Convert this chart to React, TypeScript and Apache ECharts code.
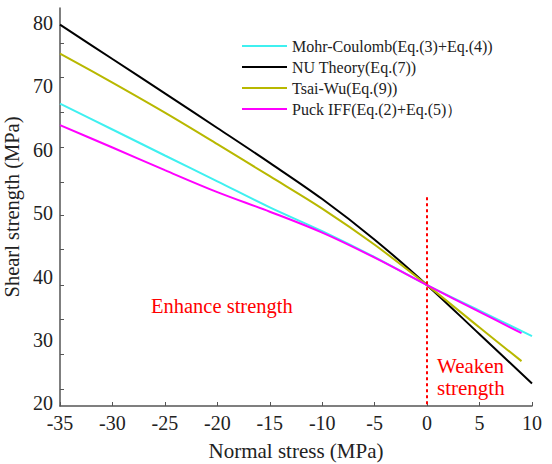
import React, { useEffect, useRef } from 'react';
import * as echarts from 'echarts';
import type { EChartsOption } from 'echarts';

// normal stress (MPa)
const stressFull = [-35, -30, -25, -20, -15, -10, -5, 0, 5, 10];
const stressShort = [-35, -30, -25, -20, -15, -10, -5, 0, 5, 9];

// shear strength (MPa)
const mohrCoulomb = [67.25, 63.16, 59.06, 54.99, 50.89, 47.14, 43.05, 38.64, 34.62, 30.61];
const nuTheory = [79.69, 74.26, 68.85, 63.4, 57.9, 52.2, 45.8, 38.64, 30.9, 23.16];
const tsaiWu = [75.13, 70.53, 65.8, 60.84, 55.8, 50.7, 45.0, 38.64, 31.96, 26.67];
const puckIFF = [63.84, 60.32, 56.75, 53.29, 50.21, 46.91, 42.97, 38.64, 34.43, 31.08];

const yLabelValues = [20, 30, 40, 50, 60, 70, 80];
const yTickValues = [22.3, 27.8, 33.3, 38.6, 44.3, 49.7, 54.9, 60.4, 65.9, 71.4, 76.8];

const seriesNames = [
  'Mohr-Coulomb(Eq.(3)+Eq.(4))',
  'NU Theory(Eq.(7))',
  'Tsai-Wu(Eq.(9))',
  'Puck IFF(Eq.(2)+Eq.(5)）',
];

const FONT = 'Liberation Serif';

const pairs = (xs: number[], ys: number[]) => xs.map((x, i) => [x, ys[i]]);

const App: React.FC = () => {
  const chartRef = useRef<HTMLDivElement>(null);

  useEffect(() => {
    let chart: echarts.ECharts | undefined;
    if (chartRef.current) {
      chart = echarts.init(chartRef.current, undefined, { renderer: 'svg' });

      const line = (name: string, color: string, data: number[][]) => ({
        name,
        type: 'line' as const,
        data,
        symbol: 'none',
        smooth: 0.35,
        lineStyle: { color, width: 2 },
        itemStyle: { color },
      });

      const option: EChartsOption = {
        animation: false,
        backgroundColor: '#fff',
        textStyle: { fontFamily: FONT },
        grid: { left: 60, right: 20, top: 8, bottom: 58, outerBoundsMode: 'none' } as any,
        legend: {
          orient: 'vertical',
          left: 237,
          top: 33,
          icon: 'rect',
          itemWidth: 45,
          itemHeight: 2,
          itemGap: 5,
          textStyle: { fontFamily: FONT, fontSize: 16, lineHeight: 16, color: '#222' },
          data: seriesNames,
        },
        xAxis: {
          type: 'value',
          min: -35,
          max: 10,
          interval: 5,
          name: 'Normal stress (MPa)',
          nameLocation: 'middle',
          nameGap: 34,
          nameTextStyle: { fontFamily: FONT, fontSize: 21, color: '#222' },
          axisLine: { show: true, onZero: false, lineStyle: { color: '#555', width: 1.5 } },
          axisTick: { show: true, inside: true, length: 4, lineStyle: { color: '#555' } },
          axisLabel: { fontFamily: FONT, fontSize: 20, color: '#222', margin: 7 },
          splitLine: { show: false },
        },
        yAxis: {
          type: 'value',
          min: 19.6,
          max: 82.3,
          name: 'Shearl strength (MPa)',
          nameLocation: 'middle',
          nameGap: 37,
          nameTextStyle: { fontFamily: FONT, fontSize: 20.5, color: '#222' },
          axisLine: { show: true, onZero: false, lineStyle: { color: '#555', width: 1.5 } },
          axisTick: {
            show: true,
            inside: true,
            length: 4,
            lineStyle: { color: '#555' },
            customValues: yTickValues,
          } as any,
          axisLabel: {
            fontFamily: FONT,
            fontSize: 20,
            color: '#222',
            margin: 7,
            customValues: yLabelValues,
          } as any,
          splitLine: { show: false },
        },
        series: [
          {
            ...line(seriesNames[0], '#3ff0f0', pairs(stressFull, mohrCoulomb)),
            markLine: {
              silent: true,
              symbol: 'none',
              label: { show: false },
              lineStyle: { color: '#ff0000', type: [3, 3], width: 2 },
              data: [[{ coord: [0, 52.5] }, { coord: [0, 19.6] }]],
            },
          },
          line(seriesNames[1], '#000000', pairs(stressFull, nuTheory)),
          line(seriesNames[2], '#b8b800', pairs(stressShort, tsaiWu)),
          line(seriesNames[3], '#ff00ff', pairs(stressShort, puckIFF)),
        ] as any,
        graphic: [
          {
            type: 'text',
            left: 151,
            top: 295,
            style: {
              text: 'Enhance strength',
              fill: '#ff0000',
              fontFamily: FONT,
              fontSize: 20.5,
            },
          },
          {
            type: 'text',
            left: 437,
            top: 355,
            style: {
              text: 'Weaken\nstrength',
              fill: '#ff0000',
              fontFamily: FONT,
              fontSize: 21,
              lineHeight: 22,
            },
          },
        ],
      };

      chart.setOption(option);
    }
    return () => {
      chart?.dispose();
    };
  }, []);

  return (
    <div
      ref={chartRef}
      style={{ position: 'absolute', left: 0, top: 0, width: 552, height: 464 }}
    />
  );
};

export default App;
